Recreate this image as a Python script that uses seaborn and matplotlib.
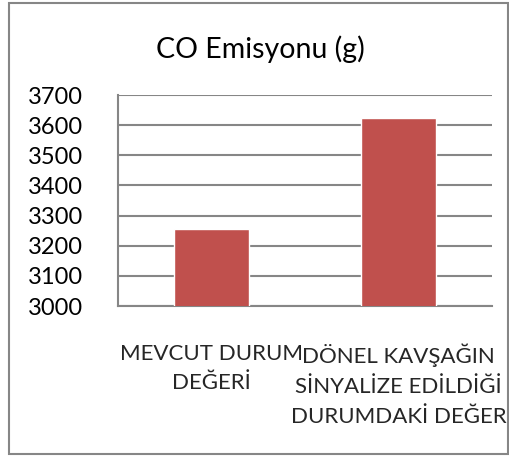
import matplotlib
matplotlib.use("Agg")
import matplotlib.pyplot as plt
import seaborn as sns
import pandas as pd
from matplotlib.patches import Rectangle

# Data
categories = ["MEVCUT DURUM\nDEĞERİ",
              "DÖNEL KAVŞAĞIN\nSİNYALİZE EDİLDİĞİ\nDURUMDAKİ DEĞER"]
co_values = [3255, 3625]
y_ticks = [3000, 3100, 3200, 3300, 3400, 3500, 3600, 3700]

sns.set_theme(style="white")
plt.rcParams["font.family"] = ["Lato", "DejaVu Sans"]

df = pd.DataFrame({"kategori": categories, "co": co_values})

fig = plt.figure(figsize=(5.10, 4.57), dpi=100)
ax = fig.add_axes([0.2314, 0.3304, 0.7333, 0.4616])

sns.barplot(data=df, x="kategori", y="co", color="#C0504D", saturation=1,
            width=0.4, ax=ax, zorder=3)

ax.set_ylim(3000, 3700)
ax.set_yticks(y_ticks)
ax.set_yticklabels([str(t) for t in y_ticks], fontsize=17, color="#000000")
ax.yaxis.grid(True, color="#868686", linewidth=1.5, zorder=0)
ax.set_axisbelow(True)
ax.tick_params(axis="y", length=0, pad=25)
ax.tick_params(axis="x", length=0, pad=27)
for lbl in ax.get_xticklabels():
    lbl.set_fontsize(16)
    lbl.set_linespacing(1.62)
ax.set_xlabel("")
ax.set_ylabel("")

for side in ["top", "right"]:
    ax.spines[side].set_visible(False)
for side in ["left", "bottom"]:
    ax.spines[side].set_color("#868686")
    ax.spines[side].set_linewidth(1.5)

fig.text(0.51, 0.893, "CO Emisyonu (g)", ha="center", va="center",
         fontsize=20.5, color="#000000")

# Chart border
fig.patches.append(Rectangle((9 / 510, 3 / 457), 499 / 510, 451 / 457,
                             transform=fig.transFigure, fill=False,
                             edgecolor="#868686", linewidth=1.5))

fig.savefig("out.png", dpi=100)
